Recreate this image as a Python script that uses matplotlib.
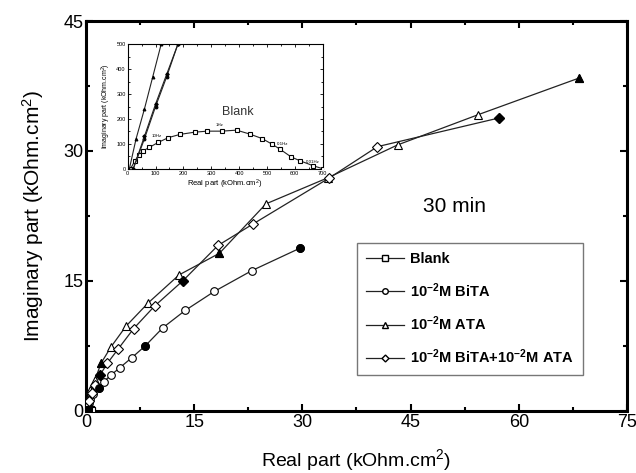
import numpy as np
import matplotlib
matplotlib.use("Agg")
import matplotlib.pyplot as plt
from matplotlib.lines import Line2D
from matplotlib.ticker import MultipleLocator

# ---------------- data (kOhm.cm^2) ----------------
ata_x = [0.006, 0.03, 0.06, 0.09, 0.12, 0.25, 0.55, 1.25, 2.08, 3.47, 5.56, 8.66,
         12.9, 18.5, 24.95, 33.5, 43.2, 54.4, 68.3]
ata_y = [0.0, 0.12, 0.24, 0.37, 0.5, 1.1, 2.4, 3.6, 5.5, 7.4, 9.8, 12.5,
         15.7, 18.2, 23.9, 26.9, 30.7, 34.2, 38.4]
ata_filled = [8, 13, 18]

bita_x = [0.02, 0.06, 0.1, 0.14, 0.18, 0.35, 0.6, 1.0, 1.85, 2.5, 3.47, 4.7,
          6.35, 8.2, 10.65, 13.75, 17.8, 23.0, 29.7]
bita_y = [0.0, 0.12, 0.25, 0.37, 0.5, 0.9, 1.4, 2.0, 2.6, 3.4, 4.15, 5.0,
          6.15, 7.5, 9.6, 11.6, 13.8, 16.2, 18.8]
bita_filled = [8, 13, 18]

mix_x = [0.02, 0.06, 0.1, 0.14, 0.18, 0.4, 0.8, 1.3, 1.94, 2.96, 4.5, 6.6,
         9.5, 13.4, 18.3, 23.2, 33.75, 40.4, 57.2]
mix_y = [0.0, 0.13, 0.26, 0.38, 0.5, 1.2, 2.1, 3.0, 4.15, 5.5, 7.2, 9.5,
         12.1, 15.0, 19.1, 21.6, 26.9, 30.5, 33.8]
mix_filled = [8, 13, 18]

# Blank (inset units, Ohm.cm^2)
blank_x = [10, 25, 40, 56, 78, 110, 146, 188, 241, 286, 337, 391, 439, 483,
           519, 546, 586, 618, 666, 700]
blank_y = [0, 30, 55, 72, 86, 106, 125, 138, 147, 151, 151, 155, 139, 121,
           98, 79, 48, 32, 12, 0]

freq_labels = ["10Hz", "1Hz", "0.1Hz", "0.01Hz"]
freq_x = [104, 328, 556, 666]
freq_y = [131, 176, 98, 26]

labels = ["Blank", r"10$^{\mathregular{-2}}$M BiTA", r"10$^{\mathregular{-2}}$M ATA",
          r"10$^{\mathregular{-2}}$M BiTA+10$^{\mathregular{-2}}$M ATA"]

xticks = [0, 15, 30, 45, 60, 75]
yticks = [0, 15, 30, 45]

# ---------------- style ----------------
NARROW = ["Liberation Sans Narrow", "Liberation Sans", "DejaVu Sans"]
REG = ["Liberation Sans", "DejaVu Sans"]
plt.rcParams["font.family"] = NARROW
plt.rcParams["mathtext.fontset"] = "custom"
plt.rcParams["mathtext.rm"] = "Liberation Sans"
plt.rcParams["mathtext.it"] = "Liberation Sans"
plt.rcParams["mathtext.bf"] = "Liberation Sans:bold"

fig = plt.figure(figsize=(6.36, 4.73), dpi=100)
ax = fig.add_axes([0.1352, 0.1311, 0.8506, 0.8245])

lc = "#222222"
lw = 0.9
ms = 5.5

def draw(axis, x, y, marker, filled, scale=1.0, msz=ms, lwid=lw, face="white"):
    x = np.asarray(x) * scale
    y = np.asarray(y) * scale
    axis.plot(x, y, color=lc, lw=lwid, marker=marker, ms=msz,
              mfc=face, mec="black", mew=0.8, zorder=3)
    fx = x[filled]
    fy = y[filled]
    axis.plot(fx, fy, ls="none", marker=marker, ms=msz, mfc="black",
              mec="black", mew=0.8, zorder=4)

draw(ax, np.asarray(blank_x) / 1000.0, np.asarray(blank_y) / 1000.0, "s", [0, 5, 10])
draw(ax, bita_x, bita_y, "o", bita_filled)
draw(ax, ata_x, ata_y, "^", ata_filled)
draw(ax, mix_x, mix_y, "D", mix_filled, msz=4.8)

ax.set_xlim(0, 75)
ax.set_ylim(0, 45)
ax.set_xticks(xticks)
ax.set_yticks(yticks)
ax.xaxis.set_minor_locator(MultipleLocator(7.5))
ax.yaxis.set_minor_locator(MultipleLocator(7.5))
ax.tick_params(which="both", direction="in", top=True, right=True,
               labelsize=13, pad=2, width=1.5)
ax.tick_params(which="major", length=5)
ax.tick_params(which="minor", length=3)
for s in ax.spines.values():
    s.set_linewidth(2.2)

ax.set_xlabel(r"Real part (kOhm.cm$^{\mathregular{2}}$)", fontsize=14, labelpad=12)
ax.set_ylabel(r"Imaginary part (kOhm.cm$^{\mathregular{2}}$)", fontsize=15,
              family=REG, labelpad=12)

ax.text(51.1, 23.6, "30 min", fontsize=15, ha="center", va="center")

handles = [
    Line2D([], [], color=lc, lw=lw, marker="s", ms=4, mfc="white", mec="black"),
    Line2D([], [], color=lc, lw=lw, marker="o", ms=4, mfc="white", mec="black"),
    Line2D([], [], color=lc, lw=lw, marker="^", ms=4, mfc="white", mec="black"),
    Line2D([], [], color=lc, lw=lw, marker="D", ms=3.5, mfc="white", mec="black"),
]
leg = ax.legend(handles, labels, loc="upper left", bbox_to_anchor=(0.501, 0.431),
                borderaxespad=0, fontsize=10.5, frameon=True, fancybox=False,
                handlelength=2.6, handletextpad=0.35, labelspacing=1.0,
                borderpad=0.65)
leg.get_frame().set_edgecolor("#555555")
leg.get_frame().set_linewidth(1.0)
for t in leg.get_texts():
    t.set_fontweight("bold")

# ---------------- inset ----------------
ai = fig.add_axes([0.2008, 0.6433, 0.3066, 0.263])
draw(ai, blank_x, blank_y, "s", [], msz=2.6, lwid=0.8)
draw(ai, bita_x, bita_y, "o", bita_filled, scale=1000, msz=2.0, lwid=0.8, face="black")
draw(ai, mix_x, mix_y, "D", mix_filled, scale=1000, msz=1.8, lwid=0.8, face="black")
draw(ai, ata_x, ata_y, "^", ata_filled, scale=1000, msz=2.0, lwid=0.8, face="black")
ai.set_xlim(0, 700)
ai.set_ylim(0, 500)
ai.set_xticks(range(0, 701, 100))
ai.set_yticks(range(0, 501, 100))
ai.xaxis.set_minor_locator(MultipleLocator(50))
ai.yaxis.set_minor_locator(MultipleLocator(50))
ai.tick_params(which="both", direction="in", top=True, right=True,
               labelsize=4, pad=1.5, width=0.6)
ai.tick_params(which="major", length=2.5)
ai.tick_params(which="minor", length=1.5)
for s in ai.spines.values():
    s.set_linewidth(0.8)
ai.set_xlabel(r"Real part (kOhm.cm$^{\mathregular{2}}$)", fontsize=5.5, labelpad=1.5)
ai.set_ylabel(r"Imaginary part (kOhm.cm$^{\mathregular{2}}$)", fontsize=5, labelpad=2)
ai.text(394, 226, "Blank", fontsize=9, ha="center", va="center", color="#333333")
for lab, fx, fy in zip(freq_labels, freq_x, freq_y):
    ai.text(fx, fy, lab, fontsize=3.2, ha="center", va="center")

fig.savefig("out.png", dpi=100)
